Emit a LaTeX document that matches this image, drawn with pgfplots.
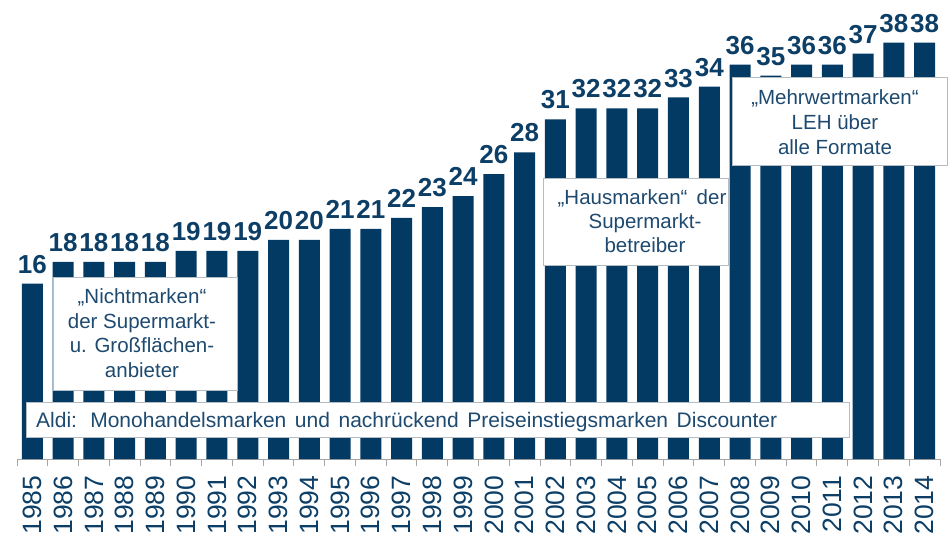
\documentclass[border=0pt]{standalone}
\usepackage{pgfplots}
\pgfplotsset{compat=1.18}
\usepackage{fontspec}
\setmainfont{Liberation Sans}
\definecolor{barnavy}{RGB}{2,58,100}
\definecolor{lblnavy}{RGB}{12,62,102}
\definecolor{txtnavy}{RGB}{30,74,112}
\definecolor{axgray}{RGB}{165,165,165}
\definecolor{boxgray}{RGB}{180,188,196}
\begin{document}
\begin{tikzpicture}
\begin{axis}[
  at={(0,0)}, anchor=south west,
  scale only axis, width=923pt, height=459pt,
  xmin=-0.5, xmax=29.5, ymin=0, ymax=41.9,
  axis x line=bottom, axis y line=none,
  x axis line style={-, draw=axgray, line width=1pt},
  ybar, bar width=21pt,
  xtick={0,...,29},
  xticklabels={1985,1986,1987,1988,1989,1990,1991,1992,1993,1994,1995,1996,1997,1998,1999,2000,2001,2002,2003,2004,2005,2006,2007,2008,2009,2010,2011,2012,2013,2014},
  major tick length=0pt,
  minor xtick={-0.5,0.5,...,29.5},
  minor tick length=7pt,
  tick align=outside,
  minor tick style={draw=axgray, line width=1pt},
  xticklabel style={yshift=-16.5pt, rotate=90, anchor=east, inner sep=0pt, font=\fontsize{26.5}{26.5}\selectfont, text=lblnavy},
  ytick=\empty,
  clip=false,
  /pgf/number format/assume math mode=true,
  nodes near coords,
  every node near coord/.append style={font=\bfseries\fontsize{26}{26}\selectfont, text=lblnavy, anchor=south, inner sep=0pt, yshift=10pt},
]
\addplot[fill=barnavy, draw=none] coordinates {
(0,16) (1,18) (2,18) (3,18) (4,18) (5,19) (6,19) (7,19) (8,20) (9,20)
(10,21) (11,21) (12,22) (13,23) (14,24) (15,26) (16,28) (17,31) (18,32) (19,32)
(20,32) (21,33) (22,34) (23,36) (24,35) (25,36) (26,36) (27,37) (28,38) (29,38)};
\end{axis}
\tikzset{wbox/.style={fill=white, draw=boxgray, line width=0.75pt},
  btxt/.style={anchor=base, inner sep=0pt, text=txtnavy, font=\fontsize{20.5}{20.5}\selectfont}}
% Aldi box
\draw[wbox] (9pt,57pt) rectangle (832pt,22pt);
\node[anchor=base west, inner sep=0pt, text=txtnavy, font=\fontsize{21}{21}\selectfont] at (19pt,32pt)
  {\makebox[741pt][s]{Aldi: Monohandelsmarken und nachrückend Preiseinstiegsmarken Discounter}};
% Nichtmarken box
\draw[wbox] (36pt,182pt) rectangle (220pt,69pt);
\node[btxt] at (125pt,156pt) {„Nichtmarken“};
\node[btxt] at (125pt,131pt) {der Supermarkt-};
\node[btxt] at (125pt,107pt) {u. Großflächen-};
\node[btxt] at (125pt,82pt) {anbieter};
% Hausmarken box
\draw[wbox] (526pt,281pt) rectangle (711pt,194pt);
\node[btxt] at (625pt,254pt) {„Hausmarken“\hspace{0.45em}der};
\node[btxt] at (628pt,230pt) {Supermarkt-};
\node[btxt] at (628pt,206pt) {betreiber};
% Mehrwertmarken box
\draw[wbox] (715pt,382pt) rectangle (930pt,294pt);
\node[btxt] at (818pt,354pt) {„Mehrwertmarken“};
\node[btxt] at (818pt,329pt) {LEH über};
\node[btxt] at (818pt,304pt) {alle Formate};
\pgfresetboundingbox
\path[use as bounding box] (-17pt,-77pt) rectangle (933pt,459pt);
\end{tikzpicture}
\end{document}
